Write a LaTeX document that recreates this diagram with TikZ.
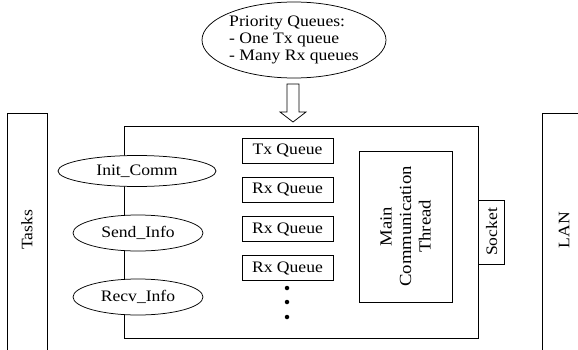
\documentclass[tikz,border=0pt]{standalone}
\usepackage{fontspec}
\setmainfont{Liberation Serif}[FakeStretch=1.1]
\usetikzlibrary{shapes.geometric,positioning}

\begin{document}
\begin{tikzpicture}[x=1pt,y=1pt,line width=0.75pt,
    font=\fontsize{16}{17}\selectfont,
    call/.style={draw,ellipse,fill=white,inner sep=0pt,minimum height=36},
    queue/.style={draw,minimum width=91,minimum height=25,inner sep=0pt},
    side/.style={draw,minimum width=40,minimum height=300,anchor=north},
    dot/.style={fill,circle,inner sep=0pt,minimum size=4.5}]
    \useasboundingbox (0,0) rectangle (578,349);
    \clip (0,0) rectangle (578,349);

    % note on top
    \node[draw,ellipse,minimum width=184,minimum height=76,inner sep=0pt,align=left] (prio) at (294,309)
        {Priority Queues:\\- One Tx queue\\- Many Rx queues};

    % outer parts
    \node[side] (tasks) at (27,236) {};
    \node[rotate=90] (taskslbl) at (27,119) {Tasks};
    \node[side] (lan) at (562,236) {};
    \node[rotate=90] (lanlbl) at (564,119) {LAN};

    % communication module
    \node[draw,minimum width=354,minimum height=212,inner sep=0pt] (comm) at (301,117) {};
    \coordinate (tip) at (293,227);
    \draw (tip) -- ++(13,10) -- ++(-7,0) -- ++(0,28) -- ++(-12,0) -- ++(0,-28) -- ++(-7,0) -- cycle;

    \node[call,minimum width=158,minimum height=31] (init) at (137,178) {Init\_Comm};
    \node[call,minimum width=130] (send) at (138,116) {Send\_Info};
    \node[call,minimum width=130] (recv) at (138,52) {Recv\_Info};

    \node[queue] (tx) at (287.5,198.5) {Tx Queue};
    \node[queue,below=13.5 of tx] (rx1) {Rx Queue};
    \node[queue,below=13.5 of rx1] (rx2) {Rx Queue};
    \node[queue,below=13.5 of rx2] (rx3) {Rx Queue};
    \foreach \y [count=\k] in {61,47,32}
        \node[dot] (dot\k) at (287,\y) {};

    \node[draw,rotate=90,minimum width=151,minimum height=93,align=center,
        font=\fontsize{17}{19.5}\selectfont] (thread) at (405.5,122.5) {Main\\Communication\\Thread};
    \node[draw,rotate=90,minimum width=64,minimum height=26,inner sep=0pt,anchor=north] (socket) at (comm.east) {Socket};
\end{tikzpicture}
\end{document}
